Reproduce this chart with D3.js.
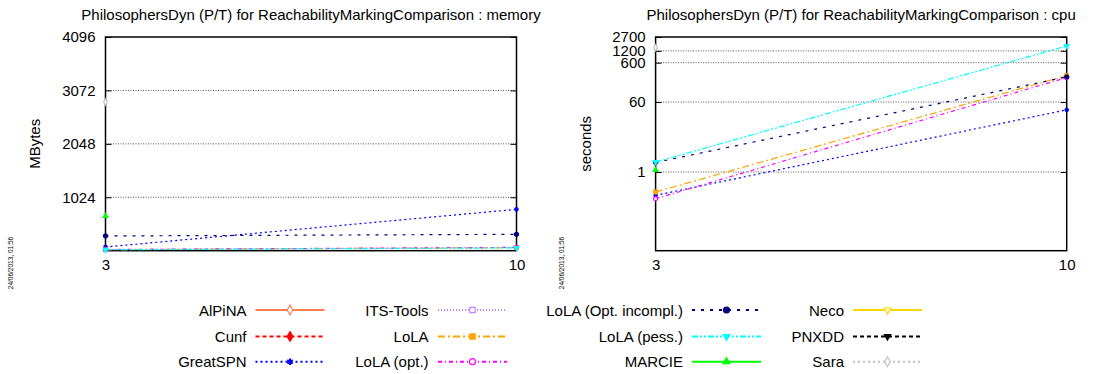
<!DOCTYPE html>
<html><head><meta charset="utf-8">
<script src="https://cdn.jsdelivr.net/npm/d3@7"></script>
<style>
html,body{margin:0;padding:0;background:#fff;}
text{font-family:"Liberation Sans",Arial,Helvetica,sans-serif;fill:#000;}
</style></head>
<body>
<svg id="chart" width="1094" height="374"></svg>
<script>
// ---- data ----
const xValues = [3, 10];
const toolNames = ["AlPiNA","Cunf","GreatSPN","ITS-Tools","LoLA","LoLA (opt.)","LoLA (Opt. incompl.)","LoLA (pess.)","MARCIE","Neco","PNXDD","Sara"];
const toolColors = ["#ff7f50","#ff0000","#0000ff","#c080ff","#ffa500","#ff00ff","#000080","#00ffff","#00ff00","#ffd700","#000000","#c0c0c0"];
const toolDash = ["none","4,3","2,3","1,2","7,3,2,3","4,3,1,3","3,6","6,2,2,2,2,2","none","none","4,3","2,3"];
const toolMarker = ["diamondOpen","diamond","asterisk","squareOpen","square","circleOpen","circle","triDown","triUp","triDownOpen","triDownSmall","diamondOpen"];

const memAlPiNA = [null, null];
const memCunf = [null, null];
const memGreatSPN = [71, 793];
const memITSTools = [null, null];
const memLoLA = [20, 58];
const memLoLAopt = [22, 64];
const memLoLAoptIncompl = [282, 314];
const memLoLApess = [18, 54];
const memMARCIE = [665, null];
const memNeco = [null, null];
const memPNXDD = [null, null];
const memSara = [2850, null];

const cpuAlPiNA = [null, null];
const cpuCunf = [null, null];
const cpuGreatSPN = [0.255, 38];
const cpuITSTools = [null, null];
const cpuLoLA = [0.31, 282];
const cpuLoLAopt = [0.21, 251];
const cpuLoLAoptIncompl = [1.75, 261];
const cpuLoLApess = [1.79, 1600];
const cpuMARCIE = [1.13, null];
const cpuNeco = [null, null];
const cpuPNXDD = [null, null];
const cpuSara = [1445, null];

const memTicks = [1024, 2048, 3072, 4096];
const cpuTicks = [1, 60, 600, 1200, 2700];
const timestamp = "24/06/2013, 01:56";

const memSeries = [memAlPiNA,memCunf,memGreatSPN,memITSTools,memLoLA,memLoLAopt,memLoLAoptIncompl,memLoLApess,memMARCIE,memNeco,memPNXDD,memSara];
const cpuSeries = [cpuAlPiNA,cpuCunf,cpuGreatSPN,cpuITSTools,cpuLoLA,cpuLoLAopt,cpuLoLAoptIncompl,cpuLoLApess,cpuMARCIE,cpuNeco,cpuPNXDD,cpuSara];

const svg = d3.select("#chart");

function markerPath(kind, s) {
  const sym = {
    diamondOpen: d3.symbolDiamond, diamond: d3.symbolDiamond,
    asterisk: d3.symbolAsterisk, squareOpen: d3.symbolSquare, square: d3.symbolSquare,
    circleOpen: d3.symbolCircle, circle: d3.symbolCircle,
    triDown: d3.symbolTriangle, triUp: d3.symbolTriangle, triDownOpen: d3.symbolTriangle, triDownSmall: d3.symbolTriangle
  }[kind];
  return d3.symbol().type(sym).size(s)();
}
function drawMarker(g, kind, color, x, y, s) {
  const open = /Open/.test(kind) || kind === "asterisk";
  const rot = /triDown/.test(kind) ? 180 : 0;
  const size = kind === "triDownSmall" ? s * 0.6 : (/tri/.test(kind) ? s * 0.75 : s);
  g.append("path").attr("d", markerPath(kind, size))
    .attr("transform", `translate(${x},${y}) rotate(${rot})`)
    .attr("fill", open ? (kind==="asterisk"?"none":"#fff") : color)
    .attr("stroke", color).attr("stroke-width", kind==="asterisk"?2:1.2);
}

function panel(opts) {
  const {left, right, top, bottom, yScaleType, yDomain, ticks, series, title, ylabel, tsX} = opts;
  const g = svg.append("g");
  const x = d3.scaleLinear().domain([3, 10]).range([left, right]);
  const y = (yScaleType === "log" ? d3.scaleLog() : d3.scaleLinear()).domain(yDomain).range([bottom, top]);

  // grid
  g.selectAll(".grid").data(ticks.filter(t => Math.abs(y(t) - top) > 2)).enter().append("line")
    .attr("x1", left).attr("x2", right).attr("y1", d => y(d)).attr("y2", d => y(d))
    .attr("stroke", "#555").attr("stroke-width", 1).attr("stroke-dasharray", "1,1.5");

  // axes with d3 axes
  const yAxisL = d3.axisLeft(y).tickValues(ticks).tickFormat(d => String(d)).tickSize(-6).tickPadding(10);
  const ga = g.append("g").attr("transform", `translate(${left},0)`).call(yAxisL);
  ga.select(".domain").remove();
  ga.selectAll("text").style("font-size", "15px");
  const yAxisR = d3.axisRight(y).tickValues(ticks).tickFormat("").tickSize(-6);
  const gr = g.append("g").attr("transform", `translate(${right},0)`).call(yAxisR);
  gr.select(".domain").remove();
  const xAxis = d3.axisBottom(x).tickValues(xValues).tickFormat(d => String(d)).tickSize(0).tickPadding(9);
  const gx = g.append("g").attr("transform", `translate(0,${bottom})`).call(xAxis);
  gx.select(".domain").remove();
  gx.selectAll("text").style("font-size", "15px");

  // frame
  g.append("rect").attr("x", left).attr("y", top).attr("width", right - left).attr("height", bottom - top)
    .attr("fill", "none").attr("stroke", "#000").attr("stroke-width", 1.5);

  // series
  series.forEach((vals, i) => {
    const pts = xValues.map((xv, j) => [xv, vals[j]]).filter(p => p[1] != null);
    if (!pts.length) return;
    if (pts.length > 1) {
      g.append("path").datum(pts)
        .attr("d", d3.line().x(p => x(p[0])).y(p => y(p[1])))
        .attr("fill", "none").attr("stroke", toolColors[i]).attr("stroke-width", 1.2)
        .attr("stroke-dasharray", toolDash[i] === "none" ? null : toolDash[i]);
    }
    pts.forEach(p => drawMarker(g, toolMarker[i], toolColors[i], x(p[0]), y(p[1]), 13));
  });

  // title
  g.append("text").attr("x", (left + right) / 2).attr("y", 20).attr("text-anchor", "middle")
    .style("font-size", "15px").text(title);
  // y label
  g.append("text").attr("transform", `translate(${opts.ylabelX},${(top + bottom) / 2}) rotate(-90)`)
    .attr("text-anchor", "middle").style("font-size", "15px").text(ylabel);
  // timestamp
  g.append("text").attr("transform", `translate(${tsX},${263}) rotate(-90)`)
    .attr("text-anchor", "middle").style("font-size", "6.5px").attr("fill", "#333").text(timestamp);
}

panel({left: 105.5, right: 516.5, top: 37, bottom: 250.7, yScaleType: "lin", yDomain: [0, 4096],
  ticks: memTicks, series: memSeries,
  title: "PhilosophersDyn (P/T) for ReachabilityMarkingComparison : memory", ylabel: "MBytes", ylabelX: 40, tsX: 13});
panel({left: 655.6, right: 1066.7, top: 37, bottom: 250.7, yScaleType: "log", yDomain: [0.01, 2700],
  ticks: cpuTicks, series: cpuSeries,
  title: "PhilosophersDyn (P/T) for ReachabilityMarkingComparison : cpu", ylabel: "seconds", ylabelX: 591, tsX: 564});

// legend
const colTextRight = [246.5, 428.6, 683, 844];
const colLineStart = [255.5, 438, 692, 853];
const lineLen = 69;
const rowY = [310, 336.5, 361.7];
const leg = svg.append("g");
toolNames.forEach((name, i) => {
  const c = Math.floor(i / 3), r = i % 3;
  const yy = rowY[r];
  leg.append("text").attr("x", colTextRight[c]).attr("y", yy + 5.5).attr("text-anchor", "end")
    .style("font-size", "15px").text(name);
  leg.append("line").attr("x1", colLineStart[c]).attr("x2", colLineStart[c] + lineLen)
    .attr("y1", yy).attr("y2", yy).attr("stroke", toolColors[i]).attr("stroke-width", 2)
    .attr("stroke-dasharray", toolDash[i] === "none" ? null : toolDash[i]);
  drawMarker(leg, toolMarker[i], toolColors[i], colLineStart[c] + lineLen / 2, yy, 28);
});
</script>
</body></html>
